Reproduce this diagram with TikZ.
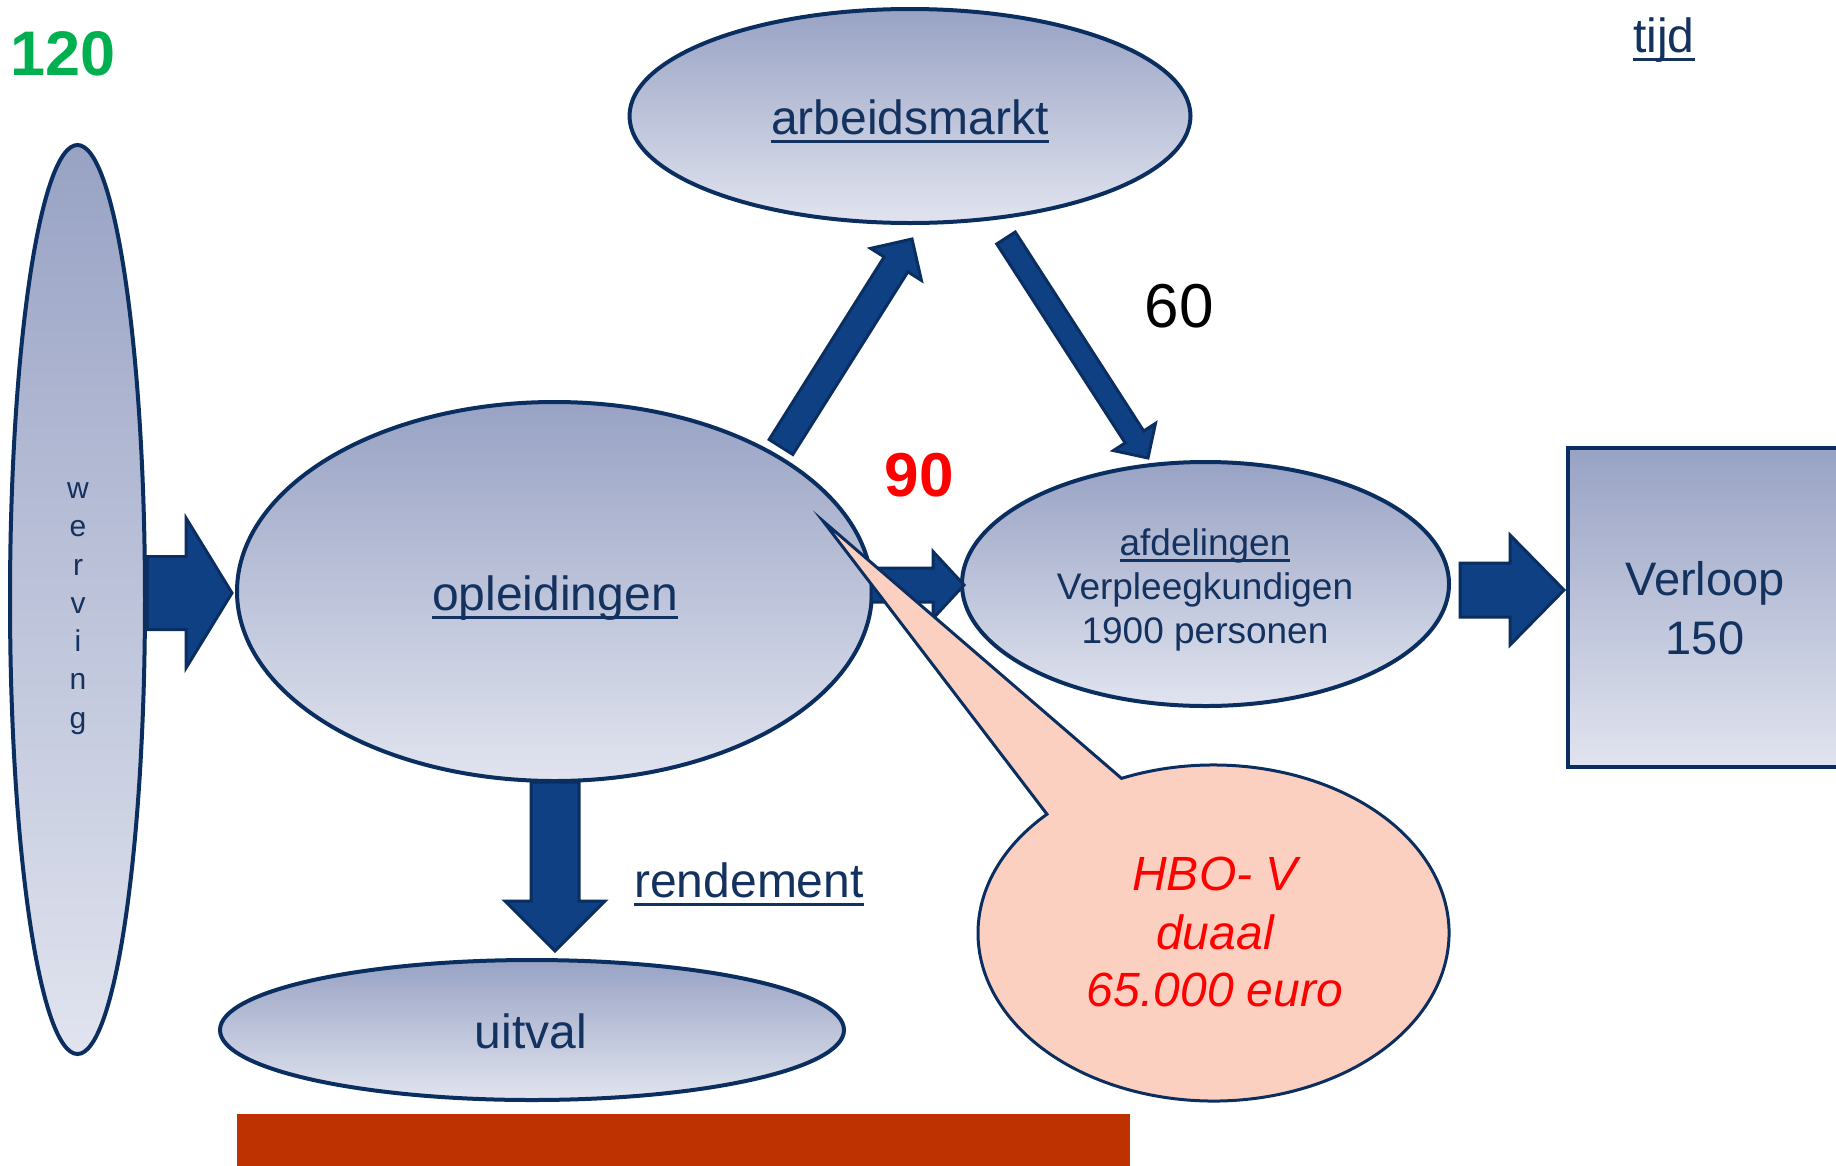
\documentclass[tikz,border=0pt]{standalone}
\usepackage{fontspec}
\setmainfont{Liberation Sans}
\usetikzlibrary{shapes.geometric,calc}
\definecolor{navy}{RGB}{20,50,95}
\definecolor{outl}{RGB}{10,46,96}
\definecolor{arrf}{RGB}{16,64,132}
\definecolor{gtop}{RGB}{152,162,196}
\definecolor{gbot}{RGB}{225,228,239}
\definecolor{calloutpink}{RGB}{252,208,192}
\definecolor{barred}{RGB}{189,50,0}
\definecolor{green120}{RGB}{0,176,80}
\definecolor{pured}{RGB}{255,0,0}
\newsavebox\ulbox
\newcommand\ulx[1]{\sbox\ulbox{#1}\rlap{\rule[-0.19em]{\wd\ulbox}{0.075em}}\usebox\ulbox}
\newcommand\barrow[6]{%
  \coordinate (#1h) at ($(#3)!#6!(#2)$);
  \path[blockarrow] ($(#2)!#4!90:(#3)$) -- ($(#1h)!#4!90:(#3)$) -- ($(#1h)!#5!90:(#3)$) -- (#3)
    -- ($(#1h)!#5!-90:(#3)$) -- ($(#1h)!#4!-90:(#3)$) -- ($(#2)!#4!-90:(#3)$) -- cycle;}
\begin{document}
\begin{tikzpicture}[x=1pt,y=-1pt,
  ell/.style={ellipse, draw=outl, line width=4pt, top color=gtop, bottom color=gbot, inner sep=0pt, outer sep=0pt},
  blockarrow/.style={fill=arrf, draw=outl, line width=3pt, line join=miter},
  txt/.style={anchor=base, text=navy, inner sep=0pt, font=\fontsize{48}{58}\selectfont},
  redtxt/.style={anchor=base, text=pured, inner sep=0pt, font=\fontsize{48}{58}\selectfont\itshape},
  callout/.style={fill=calloutpink, draw=outl, line width=3pt, line join=miter}]
\fill[white] (0,0) rectangle (1836,1165);
\clip (0,0) rectangle (1836,1165);
% shapes
\node[ell, minimum width=135pt, minimum height=909pt] (werving) at (77.5,599.5) {};
\node[ell, minimum width=561pt, minimum height=214pt] (arbeid) at (910,116) {};
\node[ell, minimum width=635pt, minimum height=379pt] (opl) at (554.5,591.5) {};
\node[ell, minimum width=487pt, minimum height=244pt] (afd) at (1205.5,584) {};
\node[ell, minimum width=624pt, minimum height=140pt] (uitval) at (532,1030) {};
\node[rectangle, draw=outl, line width=4pt, top color=gtop, bottom color=gbot, inner sep=0pt,
  minimum width=340pt, minimum height=319pt] (verloop) at (1738,607.5) {};
\fill[barred] (237,1114) rectangle (1130,1170);
% arrow end points
\coordinate (a1s) at (147,593);  \coordinate (a1e) at (232,593);
\coordinate (a2s) at (781,447);  \coordinate (a2e) at (912,239);
\coordinate (a3s) at (1006,238); \coordinate (a3e) at (1148,458);
\coordinate (a4s) at (871,585);  \coordinate (a4e) at (964,585);
\coordinate (a5s) at (1460,590); \coordinate (a5e) at (1564,590);
\coordinate (a6s) at (555,782);  \coordinate (a6e) at (555,951);
\barrow{a1}{a1s}{a1e}{36.5pt}{75pt}{46pt}
\barrow{a2}{a2s}{a2e}{14pt}{30pt}{30pt}
\barrow{a3}{a3s}{a3e}{11pt}{25pt}{25pt}
\barrow{a4}{a4s}{a4e}{17pt}{33.5pt}{31pt}
\barrow{a5}{a5s}{a5e}{27pt}{55pt}{54pt}
\barrow{a6}{a6s}{a6e}{24pt}{50pt}{50pt}
% callout
\coordinate (ctr) at (1213.5,933);
\coordinate (ctip) at (823,521);
\draw[callout] (ctr) ++(-113:235.5 and 168) arc[start angle=-113, end angle=225, x radius=235.5, y radius=168] -- (ctip) -- cycle;
% texts
\node[text=green120, anchor=base, inner sep=0pt, font=\fontsize{63}{70}\selectfont\bfseries] (n120) at (63,75) {120};
\node[txt] (tijd) at (1664,52) {\ulx{tijd}};
\node[txt] (arbeidt) at (910,134) {\ulx{arbeidsmarkt}};
\node[txt] (oplt) at (555,610) {\ulx{opleidingen}};
\node[txt] (uitvalt) at (531,1048) {uitval};
\node[txt] (rend) at (749,897) {\ulx{rendement}};
\node[txt, font=\fontsize{37}{44}\selectfont] (afd1) at (1205,555) {\ulx{afdelingen}};
\node[txt, font=\fontsize{37}{44}\selectfont] (afd2) at (1205,599) {Verpleegkundigen};
\node[txt, font=\fontsize{37}{44}\selectfont] (afd3) at (1205,643) {1900 personen};
\node[txt, font=\fontsize{47}{57}\selectfont] (ver1) at (1705,595) {Verloop};
\node[txt, font=\fontsize{47}{57}\selectfont] (ver2) at (1705,654) {150};
\node[redtxt] (c1) at (1215,890) {HBO- V};
\node[redtxt] (c2) at (1215,949) {duaal};
\node[redtxt] (c3) at (1215,1006) {65.000 euro};
\node[anchor=base, inner sep=0pt, text=black, font=\fontsize{62}{70}\selectfont] (n60) at (1179,327) {60};
\node[anchor=base, inner sep=0pt, text=pured, font=\fontsize{62}{70}\selectfont\bfseries] (n90) at (919,496) {90};
\node[anchor=north, inner sep=0pt, text=navy, align=center, font=\fontsize{30}{38.3}\selectfont] (wervt) at (78,482.4) {w\\e\\r\\v\\i\\n\\g};
\end{tikzpicture}
\end{document}
